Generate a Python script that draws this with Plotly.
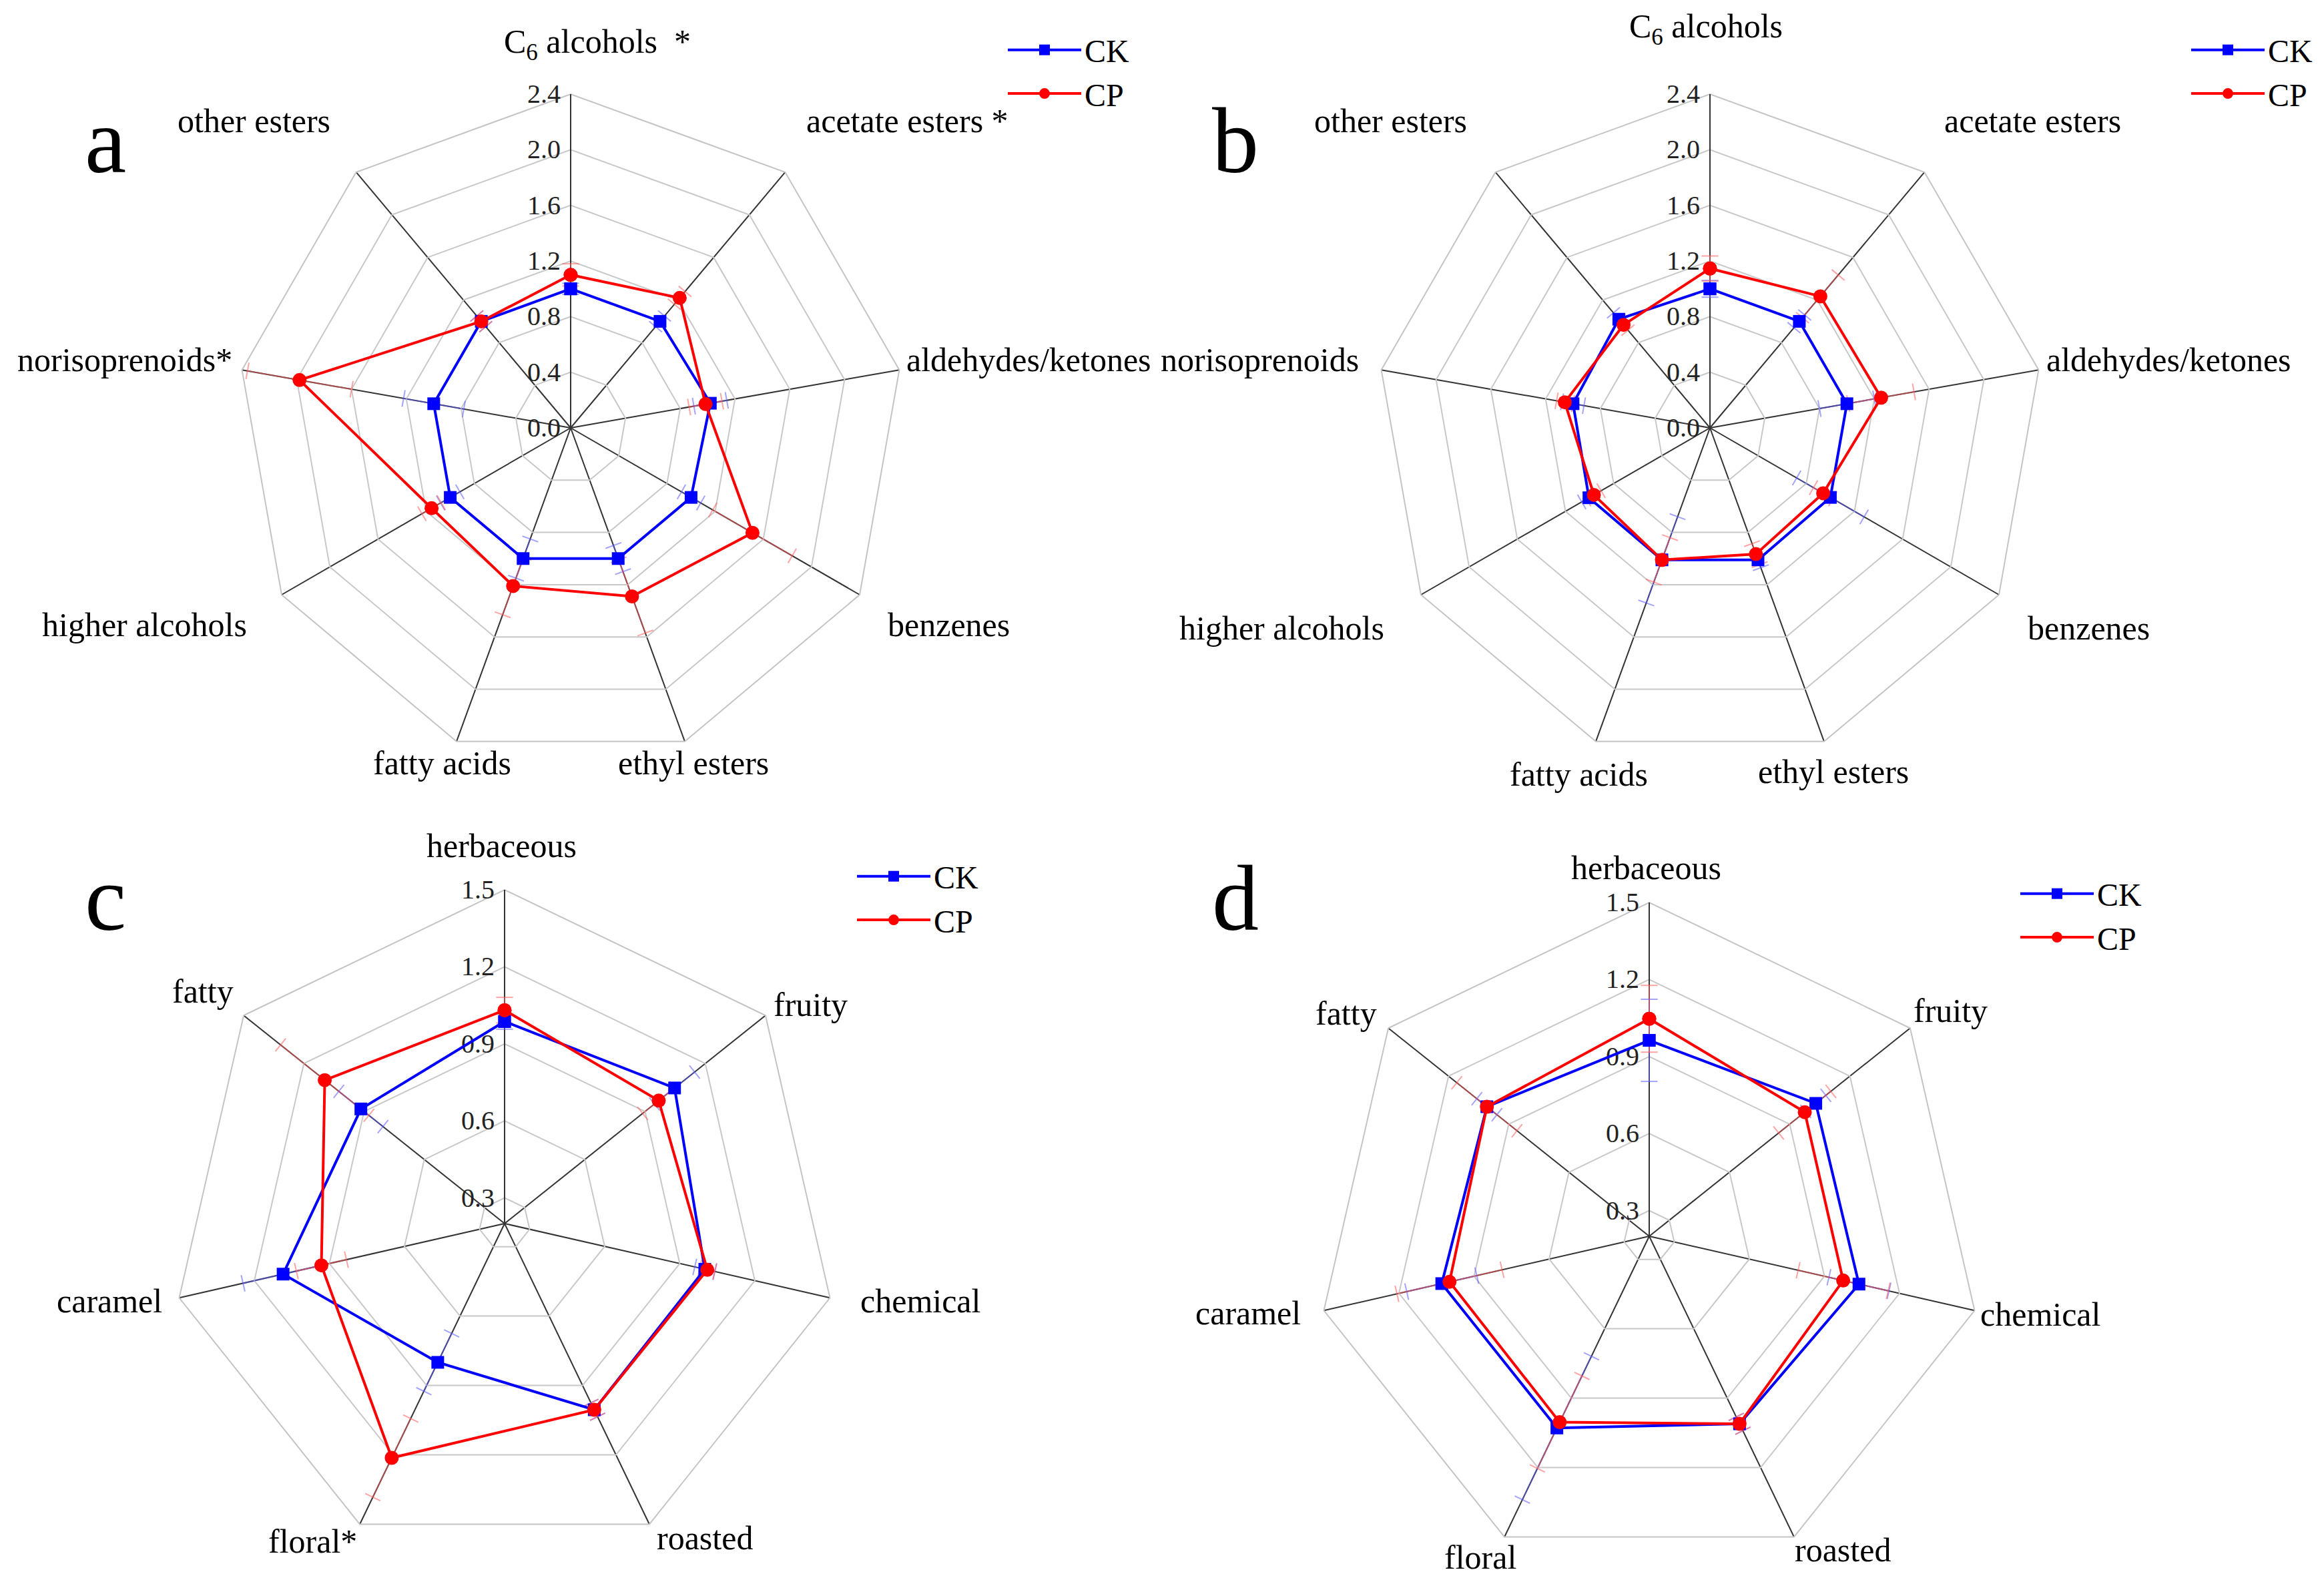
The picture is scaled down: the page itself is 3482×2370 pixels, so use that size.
import plotly.graph_objects as go

W, H = 3482, 2370
FONT = "Liberation Serif"

# ---------------- data ----------------
cats_ab = ["C6 alcohols", "acetate esters", "aldehydes/ketones", "benzenes", "ethyl esters",
           "fatty acids", "higher alcohols", "norisoprenoids", "other esters"]
labels_a = ["C<sub>6</sub> alcohols  *", "acetate esters *", "aldehydes/ketones", "benzenes", "ethyl esters",
            "fatty acids", "higher alcohols", "norisoprenoids*", "other esters"]
labels_b = ["C<sub>6</sub> alcohols", "acetate esters", "aldehydes/ketones", "benzenes", "ethyl esters",
            "fatty acids", "higher alcohols", "norisoprenoids", "other esters"]

a_ck = [1.00, 1.00, 1.02, 1.00, 1.00, 1.00, 1.00, 1.00, 1.00]
a_cp = [1.10, 1.22, 0.985, 1.51, 1.29, 1.21, 1.155, 1.98, 1.00]
a_ck_err = [0.04, 0.05, 0.12, 0.08, 0.10, 0.15, 0.08, 0.22, 0.05]
a_cp_err = [0.08, 0.06, 0.12, 0.33, 0.28, 0.22, 0.08, 0.38, 0.05]

b_ck = [1.00, 1.00, 1.00, 1.00, 1.01, 1.01, 1.005, 1.00, 1.02]
b_cp = [1.146, 1.235, 1.25, 0.94, 0.966, 1.01, 0.964, 1.06, 0.967]
b_ck_err = [0.06, 0.06, 0.20, 0.28, 0.06, 0.33, 0.06, 0.08, 0.06]
b_cp_err = [0.09, 0.20, 0.24, 0.08, 0.08, 0.17, 0.06, 0.06, 0.05]

cats_cd = ["herbaceous", "fruity", "chemical", "roasted", "floral", "caramel", "fatty"]
labels_c = ["herbaceous", "fruity", "chemical", "roasted", "floral*", "caramel", "fatty"]
labels_d = ["herbaceous", "fruity", "chemical", "roasted", "floral", "caramel", "fatty"]

c_ck = [0.987, 1.047, 1.00, 1.005, 0.80, 1.085, 0.916]
c_cp = [1.031, 0.968, 1.01, 1.005, 1.213, 0.932, 1.096]
c_ck_err = [0.03, 0.10, 0.04, 0.03, 0.125, 0.16, 0.11]
c_cp_err = [0.05, 0.08, 0.03, 0.03, 0.17, 0.10, 0.22]

d_ck = [0.963, 1.03, 1.038, 1.011, 1.029, 1.029, 1.009]
d_cp = [1.047, 0.975, 0.975, 1.011, 1.004, 0.998, 1.009]
d_ck_err = [0.16, 0.05, 0.12, 0.03, 0.31, 0.14, 0.05]
d_cp_err = [0.13, 0.13, 0.18, 0.03, 0.20, 0.21, 0.15]

ticks_ab = [0.0, 0.4, 0.8, 1.2, 1.6, 2.0, 2.4]
ticks_cd = [0.3, 0.6, 0.9, 1.2, 1.5]

# ---------------- layout (pixel positions, full-size canvas) ----------------
BLUE = "#0000FF"
RED = "#FF0000"
BLUE_ERR = "rgba(90,90,255,0.55)"
RED_ERR = "rgba(255,90,90,0.55)"
LDX, LDY = -6, -9  # global nudge of category labels

# category label centres (px from top-left)
label_pos_a = [(893, 67), (1357, 182), (1539, 540), (1419, 937), (1037, 1144),
               (660, 1144), (214, 937), (185, 540), (378, 182)]
label_pos_b = [(2554, 44), (3043, 182), (3247, 540), (3127, 942), (2745, 1157),
               (2363, 1161), (1918, 942), (1885, 540), (2081, 182)]
label_pos_c = [(749, 1268), (1212, 1506), (1377, 1950), (1054, 2305), (466, 2310),
               (162, 1950), (302, 1486)]
label_pos_d = [(2464, 1301), (2920, 1515), (3055, 1970), (2759, 2323), (2216, 2334),
               (1868, 1968), (2015, 1519)]

panels = [
    dict(name="a", cx=847, cy=633, R=500, cats=cats_ab, labels=labels_a, lpos=label_pos_a,
         ck=a_ck, cp=a_cp, ck_err=a_ck_err, cp_err=a_cp_err, rng=[0, 2.4], ticks=ticks_ab,
         leg=(1497, 29), letter=(150, 202)),
    dict(name="b", cx=2554, cy=633, R=500, cats=cats_ab, labels=labels_b, lpos=label_pos_b,
         ck=b_ck, cp=b_cp, ck_err=b_ck_err, cp_err=b_cp_err, rng=[0, 2.4], ticks=ticks_ab,
         leg=(3270, 29), letter=(1843, 202)),
    dict(name="c", cx=748, cy=1825, R=500, cats=cats_cd, labels=labels_c, lpos=label_pos_c,
         ck=c_ck, cp=c_cp, ck_err=c_ck_err, cp_err=c_cp_err, rng=[0.2, 1.5], ticks=ticks_cd,
         leg=(1271, 1267), letter=(150, 1337)),
    dict(name="d", cx=2463, cy=1844, R=500, cats=cats_cd, labels=labels_d, lpos=label_pos_d,
         ck=d_ck, cp=d_cp, ck_err=d_ck_err, cp_err=d_cp_err, rng=[0.2, 1.5], ticks=ticks_cd,
         leg=(3014, 1293), letter=(1843, 1337)),
]

fig = go.Figure()


def err_trace(cats, vals, errs, color, subplot):
    n = len(cats)
    r, th, ang = [], [], []
    for i, (c, v, e) in enumerate(zip(cats, vals, errs)):
        a = i * 360.0 / n
        r += [v - e, v + e, None]
        th += [c, c, None]
        ang += [a, a, 0]
    return go.Scatterpolar(
        r=r, theta=th, mode="lines+markers", subplot=subplot, showlegend=False,
        hoverinfo="skip", connectgaps=False,
        line=dict(color=color, width=2),
        marker=dict(symbol="line-ew", size=18, angle=ang,
                    line=dict(color=color, width=2), color=color),
    )


layout_extra = {}
annotations = []
for k, p in enumerate(panels):
    sp = "polar" if k == 0 else f"polar{k + 1}"
    lg = "legend" if k == 0 else f"legend{k + 1}"
    cats = p["cats"]
    closed = cats + cats[:1]
    fig.add_trace(err_trace(cats, p["ck"], p["ck_err"], BLUE_ERR, sp))
    fig.add_trace(err_trace(cats, p["cp"], p["cp_err"], RED_ERR, sp))
    fig.add_trace(go.Scatterpolar(
        r=p["ck"] + p["ck"][:1], theta=closed, mode="lines+markers", name="CK",
        subplot=sp, legend=lg, line=dict(color=BLUE, width=4),
        marker=dict(symbol="square", size=19, color=BLUE)))
    fig.add_trace(go.Scatterpolar(
        r=p["cp"] + p["cp"][:1], theta=closed, mode="lines+markers", name="CP",
        subplot=sp, legend=lg, line=dict(color=RED, width=4),
        marker=dict(symbol="circle", size=21, color=RED)))

    R = p["R"]
    dom_x = [(p["cx"] - R) / W, (p["cx"] + R) / W]
    dom_y = [(H - p["cy"] - R) / H, (H - p["cy"] + R) / H]
    layout_extra[sp] = dict(
        domain=dict(x=dom_x, y=dom_y),
        gridshape="linear",
        bgcolor="white",
        angularaxis=dict(
            direction="clockwise", rotation=90,
            categoryorder="array", categoryarray=cats,
            showticklabels=False, ticks="",
            showline=True, linecolor="#c4c4c4", linewidth=2,
            showgrid=True, gridcolor="#333333", gridwidth=2,
            layer="below traces",
        ),
        radialaxis=dict(
            range=p["rng"], tickmode="array", tickvals=p["ticks"], tickformat=".1f",
            angle=90, side="counterclockwise", tickangle=90,
            showline=True, linecolor="#333333", linewidth=2,
            showgrid=True, gridcolor="#c8c8c8", gridwidth=2,
            ticks="", tickfont=dict(family=FONT, size=40, color="#222222"),
            layer="below traces",
        ),
    )
    lx, ly = p["leg"]
    layout_extra[lg] = dict(
        x=lx / W, y=1 - ly / H, xanchor="left", yanchor="top",
        font=dict(family=FONT, size=48, color="black"),
        bgcolor="rgba(0,0,0,0)", tracegroupgap=0, itemwidth=110,
    )
    for txt, (tx, ty) in zip(p["labels"], p["lpos"]):
        annotations.append(dict(
            text=txt, x=(tx + LDX) / W, y=1 - (ty + LDY) / H, xref="paper", yref="paper",
            xanchor="center", yanchor="middle", showarrow=False,
            font=dict(family=FONT, size=50, color="black")))
    fx, fy = p["letter"]
    annotations.append(dict(
        text=p["name"], x=fx / W, y=1 - fy / H, xref="paper", yref="paper",
        xanchor="center", yanchor="middle", showarrow=False,
        font=dict(family=FONT, size=140, color="black")))

fig.update_layout(
    width=W, height=H,
    margin=dict(l=0, r=0, t=0, b=0),
    paper_bgcolor="white",
    plot_bgcolor="white",
    font=dict(family=FONT, color="black"),
    annotations=annotations,
    **layout_extra,
)

fig.write_html("out.html")
